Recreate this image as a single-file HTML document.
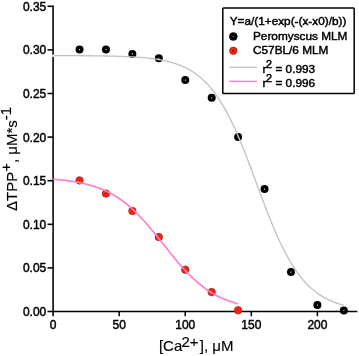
<!DOCTYPE html><html><head><meta charset="utf-8"><style>html,body{margin:0;padding:0;background:#fff;}body{width:359px;height:356px;overflow:hidden;}svg{display:block;will-change:transform;font-family:"Liberation Sans",sans-serif;}</style></head><body>
<svg width="359" height="356" viewBox="0 0 359 356">
<g stroke="#000" stroke-width="1.55" fill="none">
<path d="M53.10,5.6 V311.5 M53.10,311.5 H357.3"/>
<path d="M47.5,311.50 H53.10"/>
<path d="M47.5,267.90 H53.10"/>
<path d="M47.5,224.30 H53.10"/>
<path d="M47.5,180.70 H53.10"/>
<path d="M47.5,137.10 H53.10"/>
<path d="M47.5,93.50 H53.10"/>
<path d="M47.5,49.90 H53.10"/>
<path d="M47.5,6.30 H53.10"/>
<path d="M53.10,311.5 V316.2"/>
<path d="M119.17,311.5 V316.2"/>
<path d="M185.25,311.5 V316.2"/>
<path d="M251.32,311.5 V316.2"/>
<path d="M317.40,311.5 V316.2"/>
</g>
<g font-size="12" fill="#000" text-anchor="end" stroke="#000" stroke-width="0.45">
<text x="46.3" y="316.00">0.00</text>
<text x="46.3" y="272.40">0.05</text>
<text x="46.3" y="228.80">0.10</text>
<text x="46.3" y="185.20">0.15</text>
<text x="46.3" y="141.60">0.20</text>
<text x="46.3" y="98.00">0.25</text>
<text x="46.3" y="54.40">0.30</text>
<text x="46.3" y="10.80">0.35</text>
</g>
<g font-size="12" fill="#000" text-anchor="middle" stroke="#000" stroke-width="0.45">
<text x="53.10" y="329">0</text>
<text x="119.17" y="329">50</text>
<text x="185.25" y="329">100</text>
<text x="251.32" y="329">150</text>
<text x="317.40" y="329">200</text>
</g>
<g font-size="15" fill="#000" stroke="#000" stroke-width="0.15">
<text x="158.95" y="351.1">[Ca<tspan dy="-4.5" dx="-0.9">2+</tspan><tspan dy="4.5" dx="1.3">], μM</tspan></text>
<text transform="translate(16.7,211.05) rotate(-90)">ΔTPP<tspan dy="-5.3">+</tspan><tspan dy="5.3">, μM*s</tspan><tspan dy="-5.3">-1</tspan></text>
</g>
<circle cx="79.53" cy="49.60" r="4.0" fill="#000"/><circle cx="79.53" cy="49.60" r="0.6" fill="#fff"/>
<circle cx="105.96" cy="49.60" r="4.0" fill="#000"/><circle cx="105.96" cy="49.60" r="0.6" fill="#fff"/>
<circle cx="132.39" cy="53.90" r="4.0" fill="#000"/><circle cx="132.39" cy="53.90" r="0.6" fill="#fff"/>
<circle cx="158.82" cy="58.30" r="4.0" fill="#000"/><circle cx="158.82" cy="58.30" r="0.6" fill="#fff"/>
<circle cx="185.25" cy="80.10" r="4.0" fill="#000"/><circle cx="185.25" cy="80.10" r="0.6" fill="#fff"/>
<circle cx="211.68" cy="97.80" r="4.0" fill="#000"/><circle cx="211.68" cy="97.80" r="0.6" fill="#fff"/>
<circle cx="238.11" cy="137.00" r="4.0" fill="#000"/><circle cx="238.11" cy="137.00" r="0.6" fill="#fff"/>
<circle cx="264.54" cy="189.10" r="4.0" fill="#000"/><circle cx="264.54" cy="189.10" r="0.6" fill="#fff"/>
<circle cx="290.97" cy="272.10" r="4.0" fill="#000"/><circle cx="290.97" cy="272.10" r="0.6" fill="#fff"/>
<circle cx="317.40" cy="305.10" r="4.0" fill="#000"/><circle cx="317.40" cy="305.10" r="0.6" fill="#fff"/>
<circle cx="343.83" cy="310.50" r="4.0" fill="#000"/><circle cx="343.83" cy="310.50" r="0.6" fill="#fff"/>
<circle cx="79.53" cy="180.40" r="3.75" fill="#fa2410" stroke="#8a1006" stroke-width="0.6"/><circle cx="79.53" cy="180.40" r="0.8" fill="#b01408"/>
<circle cx="105.96" cy="193.60" r="3.75" fill="#fa2410" stroke="#8a1006" stroke-width="0.6"/><circle cx="105.96" cy="193.60" r="0.8" fill="#b01408"/>
<circle cx="132.39" cy="211.00" r="3.75" fill="#fa2410" stroke="#8a1006" stroke-width="0.6"/><circle cx="132.39" cy="211.00" r="0.8" fill="#b01408"/>
<circle cx="158.82" cy="237.10" r="3.75" fill="#fa2410" stroke="#8a1006" stroke-width="0.6"/><circle cx="158.82" cy="237.10" r="0.8" fill="#b01408"/>
<circle cx="185.25" cy="269.70" r="3.75" fill="#fa2410" stroke="#8a1006" stroke-width="0.6"/><circle cx="185.25" cy="269.70" r="0.8" fill="#b01408"/>
<circle cx="211.68" cy="292.10" r="3.75" fill="#fa2410" stroke="#8a1006" stroke-width="0.6"/><circle cx="211.68" cy="292.10" r="0.8" fill="#b01408"/>
<circle cx="238.11" cy="310.30" r="3.75" fill="#fa2410" stroke="#8a1006" stroke-width="0.6"/><circle cx="238.11" cy="310.30" r="0.8" fill="#b01408"/>
<path d="M53.10,55.60 L55.54,55.60 L57.99,55.61 L60.43,55.62 L62.87,55.62 L65.32,55.63 L67.76,55.64 L70.20,55.65 L72.64,55.66 L75.09,55.67 L77.53,55.68 L79.97,55.70 L82.42,55.72 L84.86,55.73 L87.30,55.75 L89.75,55.78 L92.19,55.80 L94.63,55.83 L97.08,55.86 L99.52,55.89 L101.96,55.93 L104.41,55.97 L106.85,56.01 L109.29,56.06 L111.73,56.12 L114.18,56.18 L116.62,56.25 L119.06,56.32 L121.51,56.41 L123.95,56.50 L126.39,56.60 L128.84,56.71 L131.28,56.84 L133.72,56.98 L136.17,57.13 L138.61,57.30 L141.05,57.49 L143.50,57.70 L145.94,57.93 L148.38,58.19 L150.82,58.47 L153.27,58.79 L155.71,59.13 L158.15,59.52 L160.60,59.94 L163.04,60.41 L165.48,60.92 L167.93,61.49 L170.37,62.12 L172.81,62.81 L175.26,63.58 L177.70,64.42 L180.14,65.34 L182.58,66.36 L185.03,67.48 L187.47,68.71 L189.91,70.06 L192.36,71.53 L194.80,73.15 L197.24,74.92 L199.69,76.84 L202.13,78.94 L204.57,81.23 L207.02,83.71 L209.46,86.40 L211.90,89.30 L214.35,92.44 L216.79,95.81 L219.23,99.43 L221.67,103.31 L224.12,107.44 L226.56,111.83 L229.00,116.49 L231.45,121.40 L233.89,126.57 L236.33,131.97 L238.78,137.61 L241.22,143.46 L243.66,149.50 L246.11,155.70 L248.55,162.05 L250.99,168.51 L253.43,175.05 L255.88,181.63 L258.32,188.22 L260.76,194.79 L263.21,201.29 L265.65,207.71 L268.09,214.00 L270.54,220.14 L272.98,226.10 L275.42,231.86 L277.87,237.40 L280.31,242.71 L282.75,247.76 L285.20,252.57 L287.64,257.11 L290.08,261.40 L292.52,265.42 L294.97,269.18 L297.41,272.70 L299.85,275.97 L302.30,279.01 L304.74,281.82 L307.18,284.42 L309.63,286.82 L312.07,289.02 L314.51,291.05 L316.96,292.90 L319.40,294.60 L321.84,296.16 L324.29,297.58 L326.73,298.88 L329.17,300.06 L331.61,301.13 L334.06,302.11 L336.50,303.00 L338.94,303.81 L341.39,304.54 L343.83,305.20" fill="none" stroke="#c2c2c2" stroke-width="1.35"/>
<rect x="52.2" y="54.6" width="2.0" height="2.2" fill="#fff"/>
<path d="M53.10,179.24 L54.65,179.36 L56.21,179.49 L57.76,179.63 L59.32,179.77 L60.87,179.93 L62.43,180.09 L63.98,180.26 L65.54,180.45 L67.09,180.64 L68.65,180.84 L70.20,181.06 L71.76,181.29 L73.31,181.53 L74.87,181.78 L76.42,182.05 L77.98,182.34 L79.53,182.64 L81.08,182.95 L82.64,183.28 L84.19,183.64 L85.75,184.01 L87.30,184.40 L88.86,184.81 L90.41,185.24 L91.97,185.70 L93.52,186.18 L95.08,186.68 L96.63,187.21 L98.19,187.77 L99.74,188.36 L101.30,188.98 L102.85,189.62 L104.41,190.30 L105.96,191.01 L107.51,191.75 L109.07,192.53 L110.62,193.35 L112.18,194.20 L113.73,195.09 L115.29,196.02 L116.84,196.99 L118.40,198.00 L119.95,199.05 L121.51,200.14 L123.06,201.28 L124.62,202.46 L126.17,203.68 L127.73,204.95 L129.28,206.26 L130.84,207.62 L132.39,209.02 L133.94,210.47 L135.50,211.95 L137.05,213.48 L138.61,215.06 L140.16,216.67 L141.72,218.32 L143.27,220.01 L144.83,221.73 L146.38,223.49 L147.94,225.29 L149.49,227.11 L151.05,228.96 L152.60,230.83 L154.16,232.73 L155.71,234.65 L157.27,236.58 L158.82,238.53 L160.37,240.48 L161.93,242.44 L163.48,244.41 L165.04,246.37 L166.59,248.33 L168.15,250.29 L169.70,252.23 L171.26,254.16 L172.81,256.08 L174.37,257.97 L175.92,259.85 L177.48,261.70 L179.03,263.52 L180.59,265.31 L182.14,267.06 L183.70,268.79 L185.25,270.47 L186.80,272.12 L188.36,273.73 L189.91,275.30 L191.47,276.83 L193.02,278.31 L194.58,279.75 L196.13,281.15 L197.69,282.50 L199.24,283.81 L200.80,285.07 L202.35,286.29 L203.91,287.47 L205.46,288.60 L207.02,289.69 L208.57,290.74 L210.13,291.75 L211.68,292.71 L213.23,293.64 L214.79,294.53 L216.34,295.38 L217.90,296.19 L219.45,296.96 L221.01,297.71 L222.56,298.41 L224.12,299.09 L225.67,299.73 L227.23,300.35 L228.78,300.93 L230.34,301.49 L231.89,302.02 L233.45,302.52 L235.00,303.00 L236.56,303.45 L238.11,303.88" fill="none" stroke="#ff80c8" stroke-width="1.7"/>
<rect x="222.8" y="8.1" width="131.4" height="85.5" rx="0.8" fill="#fff" stroke="#000" stroke-width="1.5"/>
<g font-size="11.8" fill="#000" stroke="#000" stroke-width="0.45">
<text x="229.7" y="24.6">Y=a/(1+exp(-(x-x0)/b))</text>
<circle cx="233.30" cy="36.50" r="4.0" fill="#000"/><circle cx="233.30" cy="36.50" r="0.6" fill="#fff"/>
<text x="253" y="40.2">Peromyscus MLM</text>
<circle cx="233.30" cy="50.80" r="3.75" fill="#fa2410" stroke="#8a1006" stroke-width="0.6"/><circle cx="233.30" cy="50.80" r="0.8" fill="#b01408"/>
<text x="253" y="54.2">C57BL/6 MLM</text>
<path d="M229.3,67.4 H256.9" stroke="#c2c2c2" stroke-width="1.4"/>
<text x="262.6" y="72.6">r<tspan font-size="11.4" dy="-4.4" dx="-0.7">2</tspan><tspan dy="4.4"> = 0.993</tspan></text>
<path d="M229.3,81.4 H256.9" stroke="#ff80c8" stroke-width="1.5"/>
<text x="262.6" y="86.7">r<tspan font-size="11.4" dy="-4.4" dx="-0.7">2</tspan><tspan dy="4.4"> = 0.996</tspan></text>
</g>
</svg></body></html>
